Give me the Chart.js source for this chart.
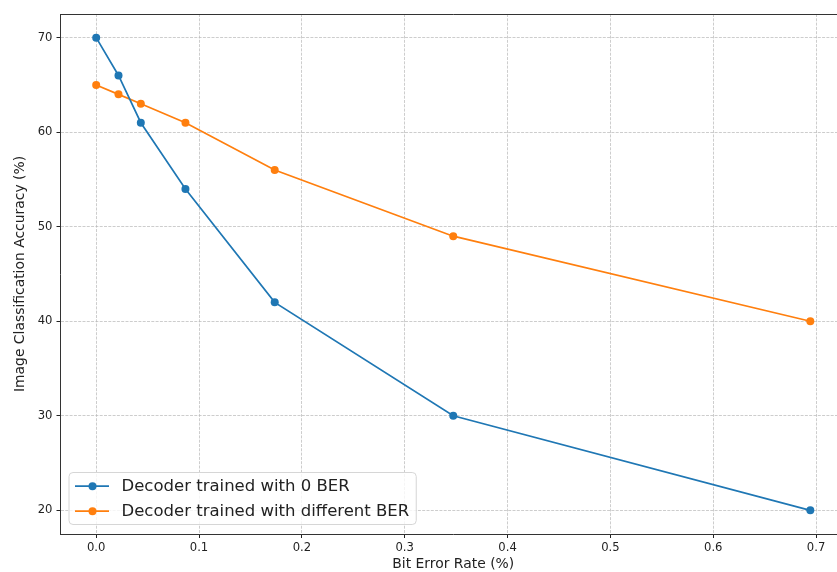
<!DOCTYPE html>
<html><head><meta charset="utf-8">
<script src="https://cdn.jsdelivr.net/npm/chart.js@4"></script>
<style>
html,body{margin:0;padding:0;overflow:hidden;background:#fff;width:837px;height:572px}
#wrap{width:850px;height:572px;position:relative}
</style></head>
<body><div id="wrap"><canvas id="c"></canvas></div>
<script>
const berValues = [0, 0.0217, 0.0434, 0.0868, 0.1736, 0.3472, 0.6944];
const accZeroBER = [70, 66, 61, 54, 42, 30, 20];
const accDiffBER = [65, 64, 63, 61, 56, 49, 40];
const seriesLabels = ['Decoder trained with 0 BER', 'Decoder trained with different BER'];
const seriesColors = ['#1f77b4', '#ff7f0e'];
const xTicks = [0, 0.1, 0.2, 0.3, 0.4, 0.5, 0.6, 0.7];
const yTicks = [20, 30, 40, 50, 60, 70];
const xTitle = 'Bit Error Rate (%)';
const yTitle = 'Image Classification Accuracy (%)';

const FONT = "'DejaVu Sans', sans-serif";

function toPoints(ys) { return berValues.map((x, i) => ({x: x, y: ys[i]})); }

const framePlugin = {
  id: 'frame',
  afterDatasetsDraw(chart) {
    const {ctx, chartArea: a} = chart;
    ctx.save();
    ctx.strokeStyle = '#333';
    ctx.lineWidth = 1;
    ctx.beginPath();
    ctx.moveTo(a.left, a.top + 0.5);
    ctx.lineTo(a.right, a.top + 0.5);
    ctx.lineTo(a.right, a.bottom);
    ctx.stroke();
    ctx.restore();
  }
};

const legendPlugin = {
  id: 'innerLegend',
  afterDraw(chart) {
    const {ctx, chartArea: a} = chart;
    const ds = chart.data.datasets;
    ctx.save();
    ctx.font = '16.5px ' + FONT;
    let maxW = 0;
    ds.forEach(d => { maxW = Math.max(maxW, ctx.measureText(d.label).width); });
    const bx = a.left + 8.5, bh = 52;
    const by = a.bottom - 9.5 - bh;
    const textX = bx + 52.5;
    const bw = textX - bx + maxW + 7;
    const r = 4;
    ctx.beginPath();
    ctx.moveTo(bx + r, by);
    ctx.arcTo(bx + bw, by, bx + bw, by + bh, r);
    ctx.arcTo(bx + bw, by + bh, bx, by + bh, r);
    ctx.arcTo(bx, by + bh, bx, by, r);
    ctx.arcTo(bx, by, bx + bw, by, r);
    ctx.closePath();
    ctx.fillStyle = 'rgba(255,255,255,0.8)';
    ctx.fill();
    ctx.strokeStyle = '#d6d6d6';
    ctx.lineWidth = 1;
    ctx.stroke();
    ds.forEach((d, i) => {
      const cy = by + 13.7 + i * 25;
      ctx.strokeStyle = d.borderColor;
      ctx.lineWidth = 1.7;
      ctx.beginPath();
      ctx.moveTo(bx + 6, cy);
      ctx.lineTo(bx + 40, cy);
      ctx.stroke();
      ctx.fillStyle = d.borderColor;
      ctx.beginPath();
      ctx.arc(bx + 23.5, cy, 4, 0, Math.PI * 2);
      ctx.fill();
      ctx.fillStyle = '#222';
      ctx.textBaseline = 'middle';
      ctx.textAlign = 'left';
      ctx.fillText(d.label, textX, cy + 0.5);
    });
    ctx.restore();
  }
};

const gridCommon = {
  color: '#b8b8b8',
  lineWidth: 0.7,
  drawTicks: true,
  tickLength: 4,
  tickColor: '#222',
  tickWidth: 1,
  tickBorderDash: []
};
const borderCommon = {display: true, color: '#333', width: 1, dash: [3, 1.3]};

new Chart(document.getElementById('c'), {
  type: 'line',
  data: {
    datasets: [
      {label: seriesLabels[0], data: toPoints(accZeroBER), borderColor: seriesColors[0], backgroundColor: seriesColors[0],
       borderWidth: 1.7, pointRadius: 4, pointBorderWidth: 0, pointHoverRadius: 4, tension: 0, fill: false},
      {label: seriesLabels[1], data: toPoints(accDiffBER), borderColor: seriesColors[1], backgroundColor: seriesColors[1],
       borderWidth: 1.7, pointRadius: 4, pointBorderWidth: 0, pointHoverRadius: 4, tension: 0, fill: false}
    ]
  },
  options: {
    responsive: true,
    maintainAspectRatio: false,
    animation: false,
    devicePixelRatio: 1,
    layout: {padding: {top: 14, right: 3.4, left: 0, bottom: 0}},
    plugins: {legend: {display: false}, tooltip: {enabled: false}, title: {display: false}},
    scales: {
      x: {
        type: 'linear',
        min: -0.0347,
        max: 0.7291,
        afterBuildTicks: s => { s.ticks = xTicks.map(v => ({value: v})); },
        afterFit: s => { s.height = 38; },
        ticks: {callback: v => Number(v).toFixed(1), font: {family: FONT, size: 11.6}, color: '#222', padding: 3, maxRotation: 0, autoSkip: false},
        grid: gridCommon,
        border: borderCommon,
        title: {display: true, text: xTitle, font: {family: FONT, size: 13.9, lineHeight: 1}, color: '#222', padding: {top: 0, bottom: 0.75}}
      },
      y: {
        type: 'linear',
        min: 17.5,
        max: 72.5,
        afterBuildTicks: s => { s.ticks = yTicks.map(v => ({value: v})); },
        afterFit: s => { s.width = 60.5; },
        ticks: {callback: v => String(v), font: {family: FONT, size: 11.6}, color: '#222', padding: 4, autoSkip: false},
        grid: gridCommon,
        border: borderCommon,
        title: {display: true, text: yTitle, font: {family: FONT, size: 13.9, lineHeight: 1.2}, color: '#222', padding: {top: 11.6, bottom: 0}}
      }
    }
  },
  plugins: [framePlugin, legendPlugin]
});
</script>
</body></html>
